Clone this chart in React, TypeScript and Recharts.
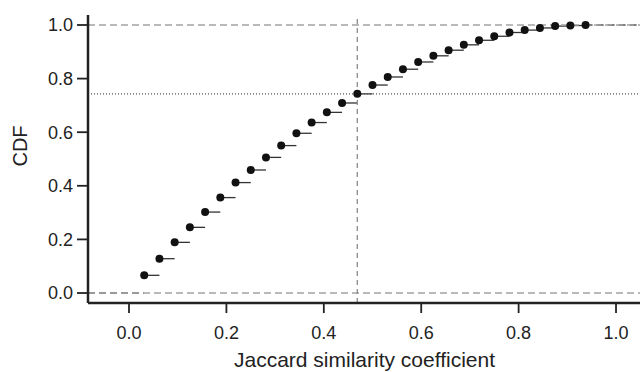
import React from "react";
import {
  ComposedChart,
  Scatter,
  XAxis,
  YAxis,
  ReferenceLine,
} from "recharts";

// similarity values (x) and empirical CDF at each value (y)
const simValues = [
  0.03125, 0.0625, 0.09375, 0.125, 0.15625, 0.1875, 0.21875, 0.25, 0.28125, 0.3125,
  0.34375, 0.375, 0.40625, 0.4375, 0.46875, 0.5, 0.53125, 0.5625, 0.59375, 0.625,
  0.65625, 0.6875, 0.71875, 0.75, 0.78125, 0.8125, 0.84375, 0.875, 0.90625, 0.9375,
];
const cdfValues = [
  0.066, 0.128, 0.189, 0.245, 0.302, 0.356, 0.412, 0.459, 0.506, 0.55,
  0.596, 0.636, 0.674, 0.709, 0.743, 0.776, 0.806, 0.835, 0.862, 0.885,
  0.906, 0.926, 0.943, 0.958, 0.972, 0.981, 0.989, 0.996, 0.998, 1.0,
];
const xTicks = [0, 0.2, 0.4, 0.6, 0.8, 1.0];
const yTicks = [0, 0.2, 0.4, 0.6, 0.8, 1.0];
const xDomain: [number, number] = [-0.0842, 1.0513];
const yDomain: [number, number] = [-0.0373, 1.0373];
const cutoffX = 0.46875;
const cutoffY = 0.743;

const points = simValues.map((x, i) => ({ x, y: cdfValues[i] }));

const FONT = '"Liberation Sans", Arial, Helvetica, sans-serif';
const INK = "#222";

export default function App() {
  const last = points.length - 1;
  return (
    <div style={{ position: "absolute", left: 0, top: 0, width: 640, height: 372, overflow: "hidden", background: "#fff" }}>
      <ComposedChart
        width={642}
        height={372}
        data={points}
        margin={{ top: 15, right: 1, bottom: 0, left: 0 }}
        style={{ fontFamily: FONT }}
      >
        <XAxis
          type="number"
          dataKey="x"
          domain={xDomain}
          allowDataOverflow
          ticks={xTicks}
          tickFormatter={(v: number) => v.toFixed(1)}
          height={69}
          tickSize={10}
          tickMargin={13}
          axisLine={{ stroke: INK, strokeWidth: 2.5 }}
          tickLine={{ stroke: INK, strokeWidth: 1.8 }}
          tick={{ fontSize: 18, fill: INK, fontFamily: FONT }}
          label={{
            value: "Jaccard similarity coefficient",
            position: "insideBottom",
            offset: 5,
            fontSize: 21,
            fill: INK,
            fontFamily: FONT,
          }}
        />
        <XAxis
          xAxisId="top"
          orientation="top"
          type="number"
          domain={xDomain}
          allowDataOverflow
          height={0}
          tick={false}
          tickLine={false}
          axisLine={{ stroke: INK, strokeWidth: 2.5 }}
        />
        <YAxis
          type="number"
          dataKey="y"
          domain={yDomain}
          allowDataOverflow
          ticks={yTicks}
          tickFormatter={(v: number) => v.toFixed(1)}
          width={88}
          tickSize={11}
          tickMargin={4}
          axisLine={{ stroke: INK, strokeWidth: 2.5 }}
          tickLine={{ stroke: INK, strokeWidth: 1.8 }}
          tick={{ fontSize: 18, fill: INK, fontFamily: FONT }}
          label={{
            content: () => (
              <text
                x={20}
                y={146}
                transform="rotate(-90 20 146)"
                textAnchor="middle"
                dominantBaseline="central"
                fontSize={20}
                fill={INK}
                fontFamily={FONT}
              >
                CDF
              </text>
            ),
          }}
        />

        {/* step segments of the empirical CDF */}
        <ReferenceLine
          segment={[{ x: xDomain[0], y: 0 }, { x: points[0].x, y: 0 }]}
          stroke="#555"
          strokeWidth={1.3}
          strokeDasharray="7 4"
        />
        {points.slice(0, last).map((p, i) => (
          <ReferenceLine
            key={i}
            segment={[{ x: p.x, y: p.y }, { x: points[i + 1].x, y: p.y }]}
            stroke="#333"
            strokeWidth={1.3}
          />
        ))}
        <ReferenceLine
          segment={[{ x: points[last].x, y: points[last].y }, { x: xDomain[1], y: points[last].y }]}
          stroke="#555"
          strokeWidth={1.3}
          strokeDasharray="7 4"
        />

        <ReferenceLine y={0} stroke="#a3a3a3" strokeWidth={1.3} strokeDasharray="7 4" />
        <ReferenceLine y={1} stroke="#a3a3a3" strokeWidth={1.3} strokeDasharray="7 4" />
        <ReferenceLine x={cutoffX} stroke="#8a8a8a" strokeWidth={1.3} strokeDasharray="5 4" />
        <ReferenceLine y={cutoffY} stroke="#555" strokeWidth={1.1} strokeDasharray="1 2" />

        <Scatter
          dataKey="y"
          fill="#111"
          isAnimationActive={false}
          shape={(props: any) => <circle cx={props.cx} cy={props.cy} r={4} fill="#111" />}
        />
      </ComposedChart>
    </div>
  );
}
